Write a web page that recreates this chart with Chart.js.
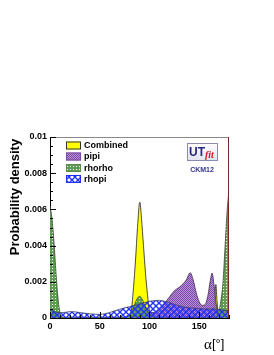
<!DOCTYPE html>
<html><head><meta charset="utf-8">
<script src="https://cdn.jsdelivr.net/npm/chart.js@4/dist/chart.umd.min.js"></script>
<style>html,body{margin:0;padding:0;background:#fff;}canvas{display:block;}</style>
</head><body>
<canvas id="c" width="274" height="355"></canvas>
<script>
// ---- data (alpha in degrees, probability density) ----
const seriesLabels = ["Combined", "pipi", "rhorho", "rhopi"];

const combinedAlpha   = [0, 79, 80, 82, 84, 86, 88, 90.3, 92, 94, 96, 98, 100, 102, 162, 164, 165.5, 166.8, 168, 169.5, 171, 180];
const combinedDensity = [0, 0, 0, 0.0005, 0.0017, 0.0032, 0.0050, 0.0064, 0.0055, 0.0040, 0.0025, 0.0013, 0.0004, 0, 0, 0.0001, 0.0009, 0.00185, 0.0009, 0.0001, 0, 0];

const pipiAlpha   = [0, 70, 75, 80, 85, 90, 95, 100, 105, 110, 115, 120, 125, 130, 134, 137, 141, 144, 147, 150, 153, 156, 159, 161, 163, 165, 167, 169, 171, 180];
const pipiDensity = [0, 0, 0.00005, 0.0002, 0.00045, 0.00055, 0.00045, 0.0003, 0.0003, 0.00045, 0.0008, 0.00115, 0.0015, 0.0017, 0.0019, 0.0021, 0.0025, 0.0021, 0.0014, 0.0009, 0.0007, 0.00075, 0.0013, 0.002, 0.00248, 0.0018, 0.0008, 0.0002, 0, 0];

const rhorhoAlpha   = [0, 2, 4, 6, 8, 10, 12, 14, 72, 76, 80, 84, 87, 90, 93, 96, 100, 104, 108, 166, 168, 170, 172, 174, 176, 178, 180];
const rhorhoDensity = [0.0062, 0.0055, 0.0042, 0.0025, 0.0011, 0.0003, 0.00005, 0, 0, 0.00005, 0.0002, 0.0006, 0.001, 0.0012, 0.001, 0.0006, 0.0002, 0.00005, 0, 0, 0.0001, 0.0004, 0.001, 0.002, 0.0039, 0.0058, 0.0071];

const rhopiAlpha   = [0, 3, 6, 10, 15, 20, 25, 30, 40, 50, 55, 60, 70, 80, 88, 95, 103, 110, 117, 125, 135, 145, 155, 165, 172, 180];
const rhopiDensity = [0.00046, 0.0004, 0.00032, 0.00029, 0.00031, 0.00035, 0.00034, 0.0003, 0.00023, 0.0002, 0.00023, 0.0003, 0.00048, 0.00063, 0.00075, 0.00085, 0.00095, 0.00097, 0.0009, 0.00075, 0.0006, 0.00054, 0.0005, 0.0005, 0.00045, 0.0004];

const xTickValues = [0, 50, 100, 150];
const yTickValues = [0, 0.002, 0.004, 0.006, 0.008, 0.01];

// ---- patterns ----
const cv = document.getElementById('c');
const mctx = cv.getContext('2d');
function makePattern(size, draw) {
  const c = document.createElement('canvas'); c.width = size; c.height = size;
  draw(c.getContext('2d'), size);
  return mctx.createPattern(c, 'repeat');
}
const purplePat = makePattern(2, (g) => {
  g.fillStyle = 'rgba(165,120,205,0.8)'; g.fillRect(0,0,2,2);
  g.fillStyle = '#7e45ab'; g.fillRect(0,0,1,1); g.fillRect(1,1,1,1);
});
const greenPat = makePattern(3, (g) => {
  g.fillStyle = '#5e9c54'; g.fillRect(0,0,3,3);
  g.clearRect(1,1,1,1);
});
const bluePat = makePattern(6, (g, s) => {
  g.strokeStyle = '#2233ff'; g.lineWidth = 1.4;
  g.beginPath();
  g.moveTo(-1,-1); g.lineTo(s+1,s+1);
  g.moveTo(s+1,-1); g.lineTo(-1,s+1);
  g.stroke();
});

function pts(xs, ys) { return xs.map((x, i) => ({x: x, y: ys[i]})); }

const styles = [
  {fill: '#ffff00', border: '#222', order: 4, box: '#ffff00', boxBorder: '#333'},
  {fill: purplePat, border: '#3d2a4d', order: 3, box: purplePat, boxBorder: '#7a4aa0'},
  {fill: greenPat, border: '#2e4a2a', order: 2, box: greenPat, boxBorder: '#5a8a50'},
  {fill: bluePat, border: '#333a6a', order: 1, box: bluePat, boxBorder: '#1f2dff'}
];
const seriesData = [
  pts(combinedAlpha, combinedDensity),
  pts(pipiAlpha, pipiDensity),
  pts(rhorhoAlpha, rhorhoDensity),
  pts(rhopiAlpha, rhopiDensity)
];

const decorPlugin = {
  id: 'decor',
  afterDatasetsDraw(chart) {
    const ctx = chart.ctx, ca = chart.chartArea;
    const xs = chart.scales.x, ys = chart.scales.y;
    ctx.save();
    // frame
    ctx.strokeStyle = '#888'; ctx.lineWidth = 1;
    ctx.beginPath(); ctx.moveTo(ca.left, ca.top + 0.5); ctx.lineTo(ca.right, ca.top + 0.5); ctx.stroke();
    ctx.strokeStyle = '#7a2626';
    ctx.beginPath(); ctx.moveTo(ca.right - 0.5, ca.top); ctx.lineTo(ca.right - 0.5, ca.bottom); ctx.stroke();
    // inward ticks
    ctx.strokeStyle = '#000'; ctx.lineWidth = 1;
    ctx.beginPath();
    for (let v = 0; v <= 0.01 + 1e-9; v += 0.0005) {
      const major = Math.abs(v / 0.002 - Math.round(v / 0.002)) < 1e-6;
      const y = Math.round(ys.getPixelForValue(v)) + 0.5;
      ctx.moveTo(ca.left, y); ctx.lineTo(ca.left + (major ? 6 : 3), y);
    }
    for (let v = 0; v <= 180; v += 10) {
      const major = v % 50 === 0;
      const x = Math.round(xs.getPixelForValue(v)) + 0.5;
      ctx.moveTo(x, ca.bottom); ctx.lineTo(x, ca.bottom - (major ? 6 : 3));
    }
    ctx.stroke();
    // legend
    const rows = [145.5, 156.5, 168, 179];
    ctx.font = 'bold 9px "Liberation Sans", Arial, sans-serif';
    ctx.textBaseline = 'middle'; ctx.textAlign = 'left';
    chart.data.datasets.forEach((ds, i) => {
      const y = rows[i];
      ctx.fillStyle = '#fff'; ctx.fillRect(66, y - 4, 15, 8);
      ctx.fillStyle = styles[i].box; ctx.fillRect(66, y - 4, 15, 8);
      ctx.strokeStyle = styles[i].boxBorder; ctx.lineWidth = 1;
      ctx.strokeRect(66.5, y - 3.5, 14, 7);
      ctx.fillStyle = '#000';
      ctx.fillText(ds.label, 84, y + 0.5);
    });
    // UTfit logo
    const grd = ctx.createLinearGradient(0, 143, 0, 160);
    grd.addColorStop(0, '#ffffff'); grd.addColorStop(1, '#e4e4f0');
    ctx.fillStyle = grd; ctx.fillRect(187, 143, 30, 17);
    ctx.strokeStyle = '#8a8ab0'; ctx.strokeRect(187.5, 143.5, 30, 17);
    ctx.fillStyle = '#27277c'; ctx.textBaseline = 'alphabetic';
    ctx.font = 'bold 12px "Liberation Sans", Arial, sans-serif';
    ctx.fillText('UT', 189, 156);
    ctx.fillStyle = '#cc2020';
    ctx.font = 'italic bold 10px "Liberation Serif", serif';
    ctx.fillText('fit', 205, 158);
    ctx.fillStyle = '#34348a'; ctx.textAlign = 'center';
    ctx.font = 'bold 7px "Liberation Sans", Arial, sans-serif';
    ctx.fillText('CKM12', 202, 172);
    ctx.restore();
  },
  afterDraw(chart) {
    const ctx = chart.ctx;
    ctx.save();
    // y title
    ctx.translate(19, 197); ctx.rotate(-Math.PI / 2);
    ctx.fillStyle = '#000'; ctx.textAlign = 'center'; ctx.textBaseline = 'alphabetic';
    ctx.font = 'bold 13px "Liberation Sans", Arial, sans-serif';
    ctx.fillText('Probability density', 0, 0);
    ctx.restore();
    ctx.save();
    ctx.fillStyle = '#000'; ctx.textBaseline = 'alphabetic'; ctx.textAlign = 'left';
    ctx.font = '15px "Liberation Serif", serif';
    ctx.fillText('α', 204, 349);
    ctx.font = '13px "Liberation Sans", Arial, sans-serif';
    ctx.fillText('[°]', 212, 348);
    ctx.restore();
  }
};

new Chart(cv, {
  type: 'line',
  data: {
    datasets: seriesData.map((d, i) => ({
      label: seriesLabels[i],
      data: d,
      backgroundColor: styles[i].fill,
      borderColor: styles[i].border,
      borderWidth: 0.8,
      fill: 'origin',
      pointRadius: 0,
      cubicInterpolationMode: 'monotone',
      order: styles[i].order
    }))
  },
  options: {
    responsive: false,
    animation: false,
    devicePixelRatio: 1,
    layout: {padding: {left: 0, top: 137, right: 45, bottom: 0}},
    plugins: {legend: {display: false}, tooltip: {enabled: false}},
    scales: {
      x: {
        type: 'linear', min: 0, max: 180,
        afterBuildTicks: (s) => { s.ticks = xTickValues.map(v => ({value: v})); },
        afterFit: (s) => { s.height = 37; },
        ticks: {color: '#000', font: {family: '"Liberation Sans", Arial, sans-serif', size: 9, weight: 'bold'}, padding: 3, maxRotation: 0},
        grid: {display: true, drawOnChartArea: false, drawTicks: false, tickLength: 0},
        border: {display: true, color: '#000', width: 1}
      },
      y: {
        type: 'linear', min: 0, max: 0.01,
        afterBuildTicks: (s) => { s.ticks = yTickValues.map(v => ({value: v})); },
        afterFit: (s) => { s.width = 50; },
        ticks: {color: '#000', font: {family: '"Liberation Sans", Arial, sans-serif', size: 9, weight: 'bold'}, padding: 3,
          callback: (v) => v === 0 ? '0' : String(+v.toFixed(3))},
        grid: {display: true, drawOnChartArea: false, drawTicks: false, tickLength: 0},
        border: {display: true, color: '#000', width: 1}
      }
    }
  },
  plugins: [decorPlugin]
});
</script>
</body></html>
